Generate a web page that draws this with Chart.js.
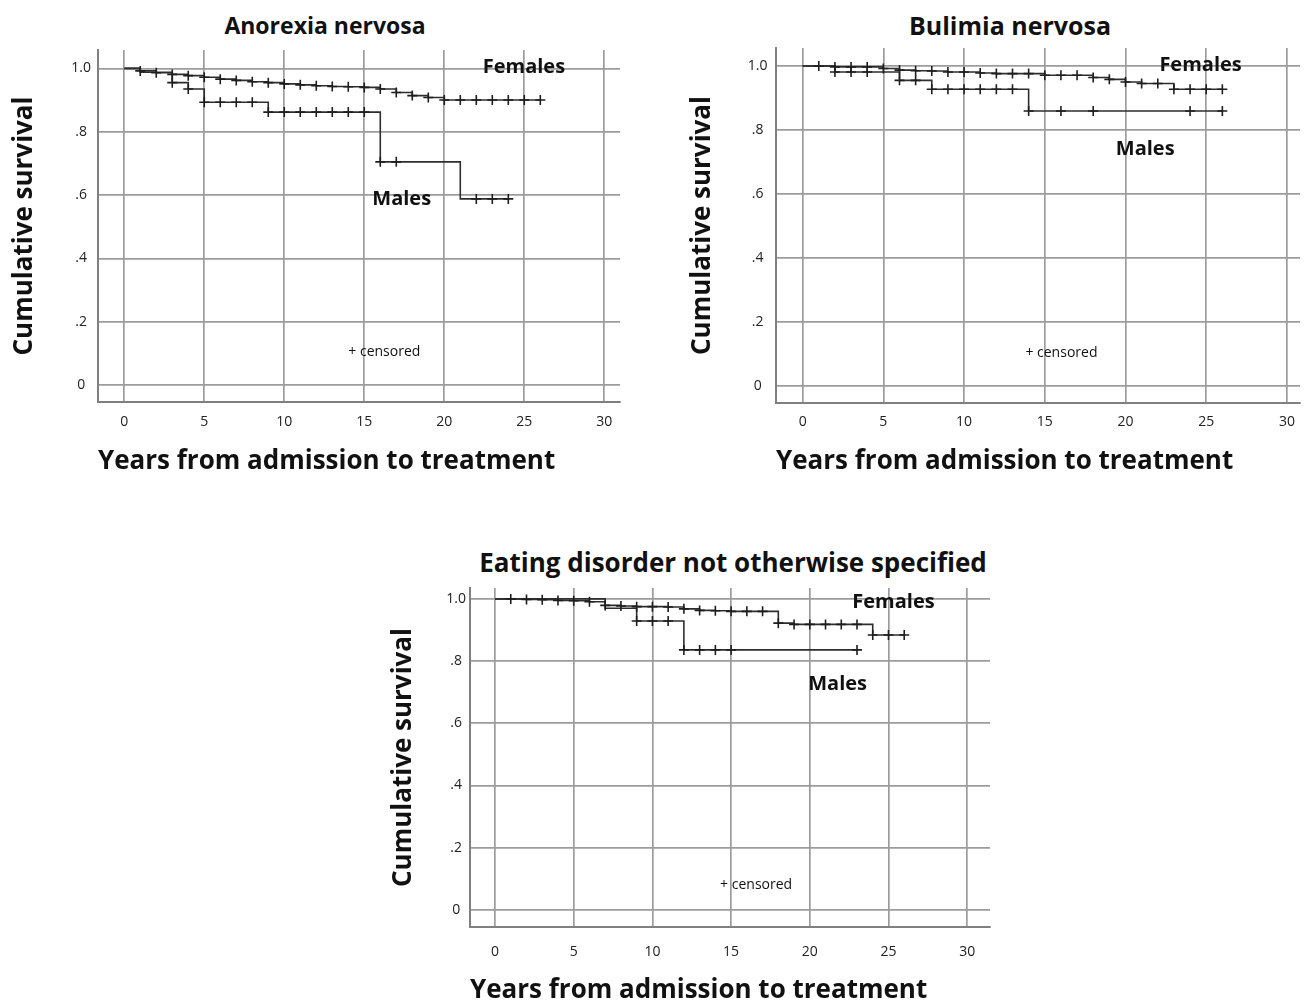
<!DOCTYPE html>
<html>
<head>
<meta charset="utf-8">
<title>Cumulative survival by sex</title>
<script src="https://cdn.jsdelivr.net/npm/chart.js@4/dist/chart.umd.min.js"></script>
<style>
  html, body { margin: 0; padding: 0; background: #fff; overflow: hidden; }
  body { width: 1309px; height: 1003px; position: relative; font-family: 'Open Sans', sans-serif; }
  .panel-title { position: absolute; font-weight: bold; font-size: 22px; color: #111; white-space: nowrap; transform: translate(-50%, -50%); }
  canvas { position: absolute; }
</style>
</head>
<body>
<div class="panel-title" style="left:325px; top:25px; font-size:23px">Anorexia nervosa</div>
<div class="panel-title" style="left:1010px; top:25px; font-size:25px">Bulimia nervosa</div>
<div class="panel-title" style="left:733px; top:562px; font-size:26px">Eating disorder not otherwise specified</div>

<canvas id="anChart" width="650" height="480" style="left:0px; top:0px"></canvas>
<canvas id="bnChart" width="629" height="480" style="left:680px; top:0px"></canvas>
<canvas id="ednosChart" width="640" height="470" style="left:380px; top:540px"></canvas>

<script>
// axis ticks shared by the three panels
var yearTicks = [0, 5, 10, 15, 20, 25, 30];
var survTicks = [0, 0.2, 0.4, 0.6, 0.8, 1.0];
var survTickLabels = ['0', '.2', '.4', '.6', '.8', '1.0'];

// Anorexia nervosa (cens: 1 = censored case, drawn as +)
var anFemYears = [0, 1, 2, 3, 4, 5, 6, 7, 8, 9, 10, 11, 12, 13, 14, 15, 16, 17, 18, 19, 20, 21, 22, 23, 24, 25, 26];
var anFemSurv  = [1, .992, .986, .981, .977, .972, .966, .962, .958, .955, .951, .948, .945, .943, .942, .940, .935, .924, .914, .908, .900, .900, .900, .900, .900, .900, .900];
var anFemCens  = [0, 1, 1, 1, 1, 1, 1, 1, 1, 1, 1, 1, 1, 1, 1, 1, 1, 1, 1, 1, 1, 1, 1, 1, 1, 1, 1];
var anMaleYears = [0, 1, 3, 4, 5, 6, 7, 8, 9, 10, 11, 12, 13, 14, 15, 16, 17, 21, 22, 23, 24];
var anMaleSurv  = [1, .988, .955, .935, .893, .893, .893, .893, .862, .862, .862, .862, .862, .862, .862, .705, .705, .588, .588, .588, .588];
var anMaleCens  = [0, 0, 1, 1, 1, 1, 1, 1, 1, 1, 1, 1, 1, 1, 1, 1, 1, 0, 1, 1, 1];

// Bulimia nervosa
var bnFemYears = [0, 1, 2, 3, 4, 5, 6, 7, 8, 9, 10, 11, 12, 13, 14, 15, 16, 17, 18, 19, 20, 21, 22, 23, 24, 25, 26];
var bnFemSurv  = [1, 1, .997, .997, .997, .992, .987, .985, .984, .981, .981, .978, .976, .976, .976, .971, .971, .971, .964, .958, .950, .945, .945, .927, .927, .927, .927];
var bnFemCens  = [0, 1, 1, 1, 1, 1, 1, 1, 1, 1, 1, 1, 1, 1, 1, 1, 1, 1, 1, 1, 1, 1, 1, 1, 1, 1, 1];
var bnMaleYears = [0, 2, 3, 4, 6, 7, 8, 9, 10, 11, 12, 13, 14, 16, 18, 24, 26];
var bnMaleSurv  = [1, .981, .981, .981, .955, .955, .927, .927, .927, .927, .927, .927, .859, .859, .859, .859, .859];
var bnMaleCens  = [0, 1, 1, 1, 1, 1, 1, 1, 1, 1, 1, 1, 1, 1, 1, 1, 1];

// Eating disorder not otherwise specified
var edFemYears = [0, 1, 2, 3, 4, 5, 6, 7, 8, 9, 10, 11, 12, 13, 14, 15, 16, 17, 18, 19, 20, 21, 22, 23, 24, 25, 26];
var edFemSurv  = [1, 1, .998, .997, .995, .994, .991, .979, .977, .975, .975, .974, .968, .963, .962, .960, .960, .960, .922, .918, .918, .918, .918, .918, .884, .884, .884];
var edFemCens  = [0, 1, 1, 1, 1, 1, 1, 1, 1, 1, 1, 1, 1, 1, 1, 1, 1, 1, 1, 1, 1, 1, 1, 1, 1, 1, 1];
var edMaleYears = [0, 7, 9, 10, 11, 12, 13, 14, 15, 23];
var edMaleSurv  = [1, .970, .929, .929, .929, .836, .836, .836, .836, .836];
var edMaleCens  = [0, 0, 1, 1, 1, 1, 1, 1, 1, 1];

Chart.defaults.font.family = "'Open Sans', sans-serif";

var gridColor = '#9c9c9c';
var axisColor = '#808080';
var curveColor = '#2e2e2e';

// writes the Females / Males / censored notes inside the plot, at data coordinates
var panelNotes = {
  id: 'panelNotes',
  afterDatasetsDraw: function (chart, args, opts) {
    var ctx = chart.ctx;
    var xs = chart.scales.x, ys = chart.scales.y;
    (opts.items || []).forEach(function (n) {
      ctx.save();
      ctx.font = n.font;
      ctx.fillStyle = '#111';
      ctx.textAlign = 'left';
      ctx.textBaseline = 'middle';
      ctx.fillText(n.text, xs.getPixelForValue(n.x), ys.getPixelForValue(n.y));
      ctx.restore();
    });
  }
};

function kmDataset(years, surv, cens) {
  return {
    data: years.map(function (t, i) { return { x: t, y: surv[i] }; }),
    stepped: true,
    borderColor: curveColor,
    borderWidth: 1.6,
    fill: false,
    pointStyle: 'cross',
    pointRadius: cens.map(function (c) { return c ? 5 : 0; }),
    pointHoverRadius: 0,
    pointBorderColor: '#1e1e1e',
    pointBorderWidth: 1.6
  };
}

function survivalChart(id, datasets, notes, box) {
  return new Chart(document.getElementById(id), {
    type: 'line',
    data: { datasets: datasets },
    plugins: [panelNotes],
    options: {
      responsive: false,
      animation: false,
      events: [],
      layout: { padding: { top: box.top, right: box.right, left: 0, bottom: 0 } },
      plugins: {
        legend: { display: false },
        tooltip: { enabled: false },
        panelNotes: { items: notes }
      },
      scales: {
        x: {
          type: 'linear',
          min: box.xMin,
          max: box.xMax,
          afterBuildTicks: function (s) { s.ticks = yearTicks.map(function (v) { return { value: v }; }); },
          afterFit: function (s) { s.height = box.xAxisH; },
          grid: { color: gridColor, lineWidth: 1.7, drawTicks: false },
          border: { color: axisColor, width: 2 },
          ticks: { padding: box.xTickPad, autoSkip: false, maxRotation: 0, color: '#222', font: { size: 14 } },
          title: {
            display: true,
            text: 'Years from admission to treatment',
            align: 'start',
            color: '#111',
            font: { size: 26, weight: 'bold', lineHeight: 1.2 },
            padding: { top: 0, bottom: box.xTitlePad }
          }
        },
        y: {
          type: 'linear',
          min: box.yMin,
          max: box.yMax,
          afterBuildTicks: function (s) { s.ticks = survTicks.map(function (v) { return { value: v }; }); },
          afterFit: function (s) { s.width = box.yAxisW; },
          grid: { color: gridColor, lineWidth: 1.7, drawTicks: false },
          border: { color: axisColor, width: 2 },
          ticks: {
            padding: box.yTickPad,
            crossAlign: 'center',
            autoSkip: false,
            color: '#222',
            font: { size: 14 },
            callback: function (v, i) { return survTickLabels[i]; }
          },
          title: {
            display: true,
            text: 'Cumulative survival',
            color: '#111',
            font: { size: 26, weight: 'bold', lineHeight: 1.2 },
            padding: { top: box.yTitlePad, bottom: 0 }
          }
        }
      }
    }
  });
}

var bold = "bold 20px 'Open Sans', sans-serif";
var small = "14px 'Open Sans', sans-serif";

survivalChart('anChart',
  [kmDataset(anFemYears, anFemSurv, anFemCens), kmDataset(anMaleYears, anMaleSurv, anMaleCens)],
  [
    { text: 'Females', x: 22.4, y: 1.004, font: bold },
    { text: 'Males', x: 15.5, y: 0.588, font: bold },
    { text: '+ censored', x: 14.0, y: 0.105, font: small }
  ],
  { top: 50, right: 30, xMin: -1.64, xMax: 30.98, yMin: -0.053, yMax: 1.058,
    xAxisH: 78, yAxisW: 98, xTickPad: 12, yTickPad: 7, xTitlePad: 2.4, yTitlePad: 9.4 });

survivalChart('bnChart',
  [kmDataset(bnFemYears, bnFemSurv, bnFemCens), kmDataset(bnMaleYears, bnMaleSurv, bnMaleCens)],
  [
    { text: 'Females', x: 22.1, y: 1.003, font: bold },
    { text: 'Males', x: 19.4, y: 0.741, font: bold },
    { text: '+ censored', x: 13.8, y: 0.103, font: small }
  ],
  { top: 48, right: 9, xMin: -1.65, xMax: 30.81, yMin: -0.053, yMax: 1.056,
    xAxisH: 77, yAxisW: 96, xTickPad: 11, yTickPad: 8.5, xTitlePad: 2.4, yTitlePad: 7.4 });

survivalChart('ednosChart',
  [kmDataset(edFemYears, edFemSurv, edFemCens), kmDataset(edMaleYears, edMaleSurv, edMaleCens)],
  [
    { text: 'Females', x: 22.7, y: 0.99, font: bold },
    { text: 'Males', x: 19.9, y: 0.726, font: bold },
    { text: '+ censored', x: 14.3, y: 0.08, font: small }
  ],
  { top: 48, right: 30, xMin: -1.59, xMax: 31.45, yMin: -0.055, yMax: 1.035,
    xAxisH: 83, yAxisW: 90, xTickPad: 17, yTickPad: 4, xTitlePad: 3.4, yTitlePad: 8.4 });
</script>
</body>
</html>
